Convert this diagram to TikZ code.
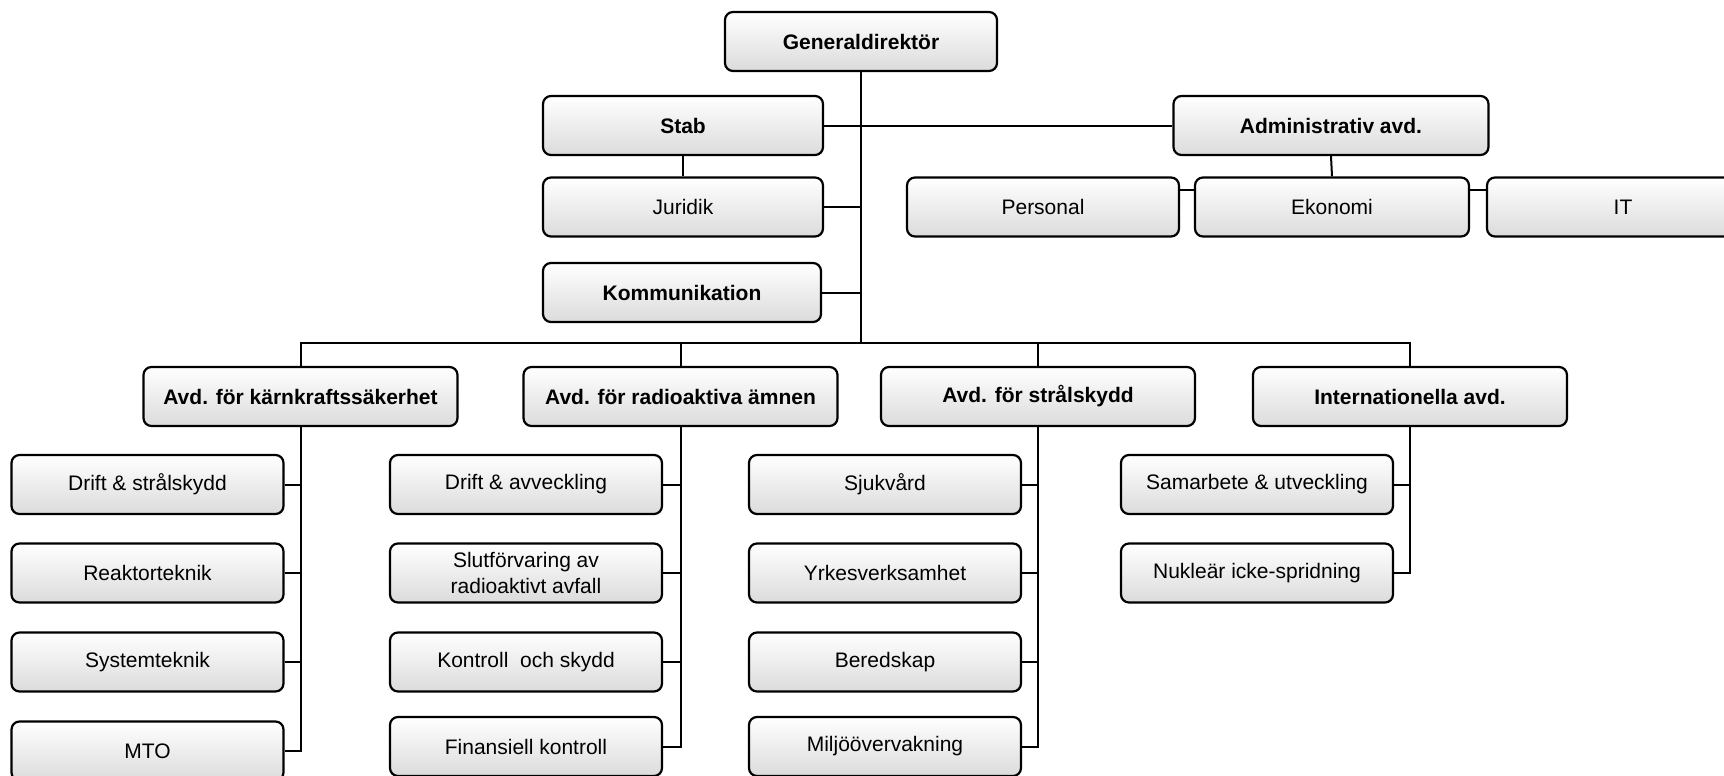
\documentclass[tikz,border=0pt]{standalone}
\usepackage{fontspec}
\setmainfont{Liberation Sans}
\begin{document}
\begin{tikzpicture}[x=0.5pt,y=-0.5pt,
  box/.style={draw=black, line width=1.1pt, rounded corners=4pt,
    top color=white, bottom color=black!14,
    minimum width=136pt, minimum height=29.5pt, inner sep=0pt,
    font=\fontsize{10.5}{13}\selectfont, align=center},
  boldbox/.style={box, font=\fontsize{10.5}{13}\selectfont\bfseries},
  divbox/.style={boldbox, minimum width=157pt},
  conn/.style={line width=1pt}]
\useasboundingbox (0,0) rectangle (1724,776);
\clip (0,0) rectangle (1724,776);

% top level
\node[boldbox] (GD) at (861,41.5) {Generaldirektör};
\node[boldbox, minimum width=140pt] (Stab) at (683,125.5) {Stab};
\node[box, minimum width=140pt] (Jur) at (683,207) {Juridik};
\node[boldbox, minimum width=139pt] (Komm) at (682,292.5) {Kommunikation};
\node[boldbox, minimum width=157.5pt] (Adm) at (1331,125.5) {Administrativ avd.};
\node[box] (Pers) at (1043,207) {Personal};
\node[box, minimum width=137pt] (Eko) at (1332,207) {Ekonomi};
\node[box] (IT) at (1623,207) {IT};

% divisions
\node[divbox] (K) at (300.5,396.5) {Avd. för kärnkraftssäkerhet};
\node[divbox] (R) at (680.5,396.5) {Avd. för radioaktiva ämnen};
\node[divbox] (S) at (1038,396.5) {Avd. för strålskydd};
\node[divbox] (I) at (1410,396.5) {Internationella avd.};

% column 1
\node[box] (K1) at (147.5,484.5) {Drift \& strålskydd};
\node[box] (K2) at (147.5,573) {Reaktorteknik};
\node[box] (K3) at (147.5,662) {Systemteknik};
\node[box] (K4) at (147.5,751) {MTO};
% column 2
\node[box] (R1) at (526,484.5) {Drift \& avveckling};
\node[box] (R2) at (526,573) {Slutförvaring av\\radioaktivt avfall};
\node[box] (R3) at (526,662) {Kontroll\ \ och skydd};
\node[box] (R4) at (526,746.5) {Finansiell kontroll};
% column 3
\node[box] (S1) at (885,484.5) {Sjukvård};
\node[box] (S2) at (885,573) {Yrkesverksamhet};
\node[box] (S3) at (885,662) {Beredskap};
\node[box] (S4) at (885,746.5) {Miljöövervakning};
% column 4
\node[box] (I1) at (1257,484.5) {Samarbete \& utveckling};
\node[box] (I2) at (1257,573) {Nukleär icke-spridning};

% connectors, top
\coordinate (busy) at (0,343);
\draw[conn] (GD.south) -- (GD.south |- busy);
\draw[conn] (Stab.east) -- (Adm.west);
\draw[conn] (Stab.south) -- (Jur.north);
\draw[conn] (Jur.east) -- (Jur.east -| GD.south);
\draw[conn] (Komm.east) -- (Komm.east -| GD.south);
\draw[conn] (Adm.south) -- (Eko.north);
\draw[conn] ([yshift=8.5pt]Pers.east) -- ([yshift=8.5pt]Eko.west);
\draw[conn] ([yshift=8.5pt]Eko.east) -- ([yshift=8.5pt]IT.west);

% bus
\draw[conn] (K.north) -- (K.north |- busy) -- (I.north |- busy) -- (I.north);
\draw[conn] (R.north) -- (R.north |- busy);
\draw[conn] (S.north) -- (S.north |- busy);

% spines
\draw[conn] (K.south) |- (K4.east);
\foreach \c in {K1,K2,K3} \draw[conn] (\c.east) -- (\c.east -| K.south);
\draw[conn] (R.south) |- (R4.east);
\foreach \c in {R1,R2,R3} \draw[conn] (\c.east) -- (\c.east -| R.south);
\draw[conn] (S.south) |- (S4.east);
\foreach \c in {S1,S2,S3} \draw[conn] (\c.east) -- (\c.east -| S.south);
\draw[conn] (I.south) |- (I2.east);
\draw[conn] (I1.east) -- (I1.east -| I.south);
\end{tikzpicture}
\end{document}
